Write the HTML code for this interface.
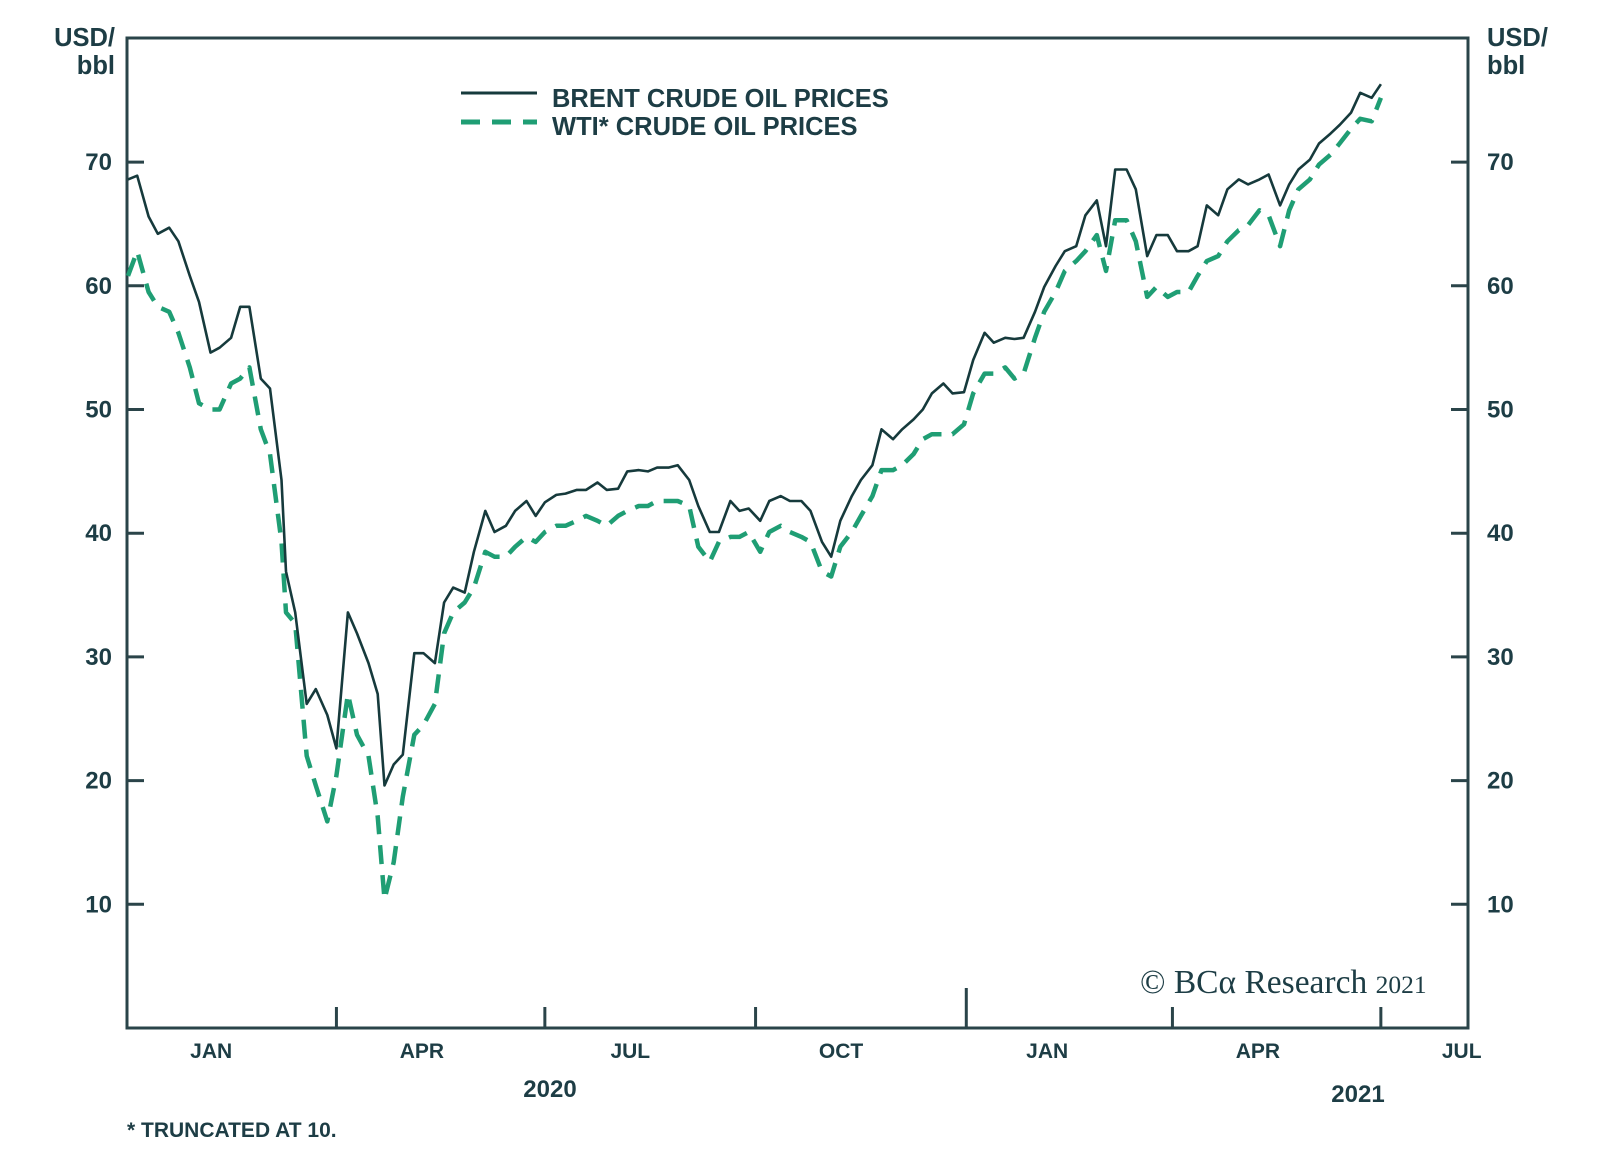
<!DOCTYPE html>
<html><head><meta charset="utf-8">
<style>
html,body{margin:0;padding:0;background:#fff;}
svg{display:block;}
text{font-family:"Liberation Sans",Arial,sans-serif;font-weight:bold;fill:#1d3d45;}
</style></head>
<body>
<svg id="chart" width="1600" height="1156" viewBox="0 0 1600 1156">
  <g id="axes"></g>
  <g id="series"></g>
  <g>
    <line x1="461" y1="93" x2="537" y2="93" stroke="#163a3c" stroke-width="3"/>
    <text x="552" y="107" font-size="25.5">BRENT CRUDE OIL PRICES</text>
    <line x1="461" y1="122" x2="537" y2="122" stroke="#1f9e74" stroke-width="5" stroke-dasharray="19 12"/>
    <text x="552" y="135" font-size="25.5">WTI* CRUDE OIL PRICES</text>
  </g>
  <text x="115" y="46" font-size="25.5" text-anchor="end">USD/</text>
  <text x="115" y="74" font-size="25.5" text-anchor="end">bbl</text>
  <text x="1487" y="46" font-size="25.5">USD/</text>
  <text x="1487" y="74" font-size="25.5">bbl</text>
  <text x="550" y="1097" font-size="24" text-anchor="middle">2020</text>
  <text x="1358" y="1102" font-size="24" text-anchor="middle">2021</text>
  <text x="127" y="1137" font-size="21">* TRUNCATED AT 10.</text>
  <text x="1140" y="993" font-size="33.5" style="font-family:'Liberation Serif',serif;font-weight:normal;">© BCα Research <tspan font-size="25.5">2021</tspan></text>
</svg>
<script>
const days = [0,4,9,13,18,22,27,31,36,40,45,49,53,58,62,67,69,73,78,82,87,91,96,100,105,109,112,
116,120,125,129,134,138,142,147,151,156,160,165,169,174,178,182,187,191,196,200,205,209,214,218,223,227,231,236,240,245,249,254,258,263,267,271,276,280,285,289,294,298,303,307,311,316,320,325,329,334,338,343,347,351,356,360,365,369,374,378,383,387,391,396,400,405,409,414,418,423,427,431,436,440,445,449,454,458,463,467,471,476,480,485,489,494,498,503,507,511,516,520,525,529,534,538,543,547];
const brent = [68.6,68.9,65.6,64.2,64.7,63.6,60.8,58.7,54.6,55.0,55.8,58.3,58.3,52.5,51.7,44.3,36.9,33.6,26.2,27.4,25.3,22.6,33.6,31.9,29.5,27.0,19.6,
21.3,22.1,30.3,30.3,29.5,34.4,35.6,35.2,38.5,41.8,40.1,40.6,41.8,42.6,41.4,42.5,43.1,43.2,43.5,43.5,44.1,43.5,43.6,45.0,45.1,45.0,45.3,45.3,45.5,44.3,42.2,40.1,40.1,42.6,41.8,42.0,41.0,42.6,43.0,42.6,42.6,41.8,39.3,38.1,41.0,43.0,44.3,45.5,48.4,47.6,48.4,49.2,50.0,51.3,52.1,51.3,51.4,54.0,56.2,55.4,55.8,55.7,55.8,57.9,59.9,61.6,62.8,63.2,65.7,66.9,63.2,69.4,69.4,67.8,62.4,64.1,64.1,62.8,62.8,63.2,66.5,65.7,67.8,68.6,68.2,68.6,69.0,66.5,68.2,69.4,70.2,71.5,72.3,73.0,74.0,75.6,75.2,76.3];
const wti = [60.8,62.8,59.5,58.3,57.9,56.2,53.4,50.5,50.0,50.0,52.1,52.5,53.4,48.4,46.4,39.3,33.6,32.7,22.0,19.6,16.7,20.4,27.0,23.7,22.0,17.1,10.4,
13.4,18.7,23.7,24.5,26.2,31.9,33.6,34.4,35.6,38.5,38.1,38.1,38.9,39.7,39.3,40.1,40.6,40.6,41.0,41.4,41.0,40.6,41.4,41.8,42.2,42.2,42.6,42.6,42.6,42.2,38.9,37.7,39.3,39.7,39.7,40.1,38.5,40.1,40.6,40.1,39.7,39.3,36.9,36.5,38.9,40.1,41.4,43.0,45.1,45.1,45.5,46.4,47.6,48.0,48.0,48.0,48.8,51.3,52.9,52.9,53.4,52.5,52.9,55.8,57.9,59.5,61.2,62.0,62.8,64.1,61.2,65.3,65.3,63.6,59.1,59.9,59.1,59.5,59.5,60.8,62.0,62.4,63.6,64.5,64.9,66.1,65.7,63.2,66.1,67.8,68.6,69.8,70.6,71.5,72.7,73.5,73.3,75.2];
const yTicks = [10,20,30,40,50,60,70];
const monthLabels = ["JAN","APR","JUL","OCT","JAN","APR","JUL"];
const monthLabelDays = [35,127,218,310,400,492,581];
const quarterTickDays = [91,182,274,366,456,547];

const NS = "http://www.w3.org/2000/svg";
const L = 127, R = 1468, T = 38, B = 1028;
const pxPerDay = 209 / 91.25;
const x = d => L + 1 + d * pxPerDay;
const y = v => B - v * 12.37;

function mk(tag, attrs, parent) {
  const e = document.createElementNS(NS, tag);
  for (const k in attrs) e.setAttribute(k, attrs[k]);
  parent.appendChild(e);
  return e;
}
const axes = document.getElementById('axes');
const series = document.getElementById('series');

const frame = mk('rect', {x: L, y: T, width: R - L, height: B - T, fill: 'none', stroke: '#2a4449', 'stroke-width': 3}, axes);



yTicks.forEach(v => {
  const tl = mk('line', {x1: L, x2: L + 17, y1: y(v), y2: y(v), stroke: '#2a4449', 'stroke-width': 3}, axes);
  
  
  const tr = mk('line', {x1: R - 17, x2: R, y1: y(v), y2: y(v), stroke: '#2a4449', 'stroke-width': 3}, axes);
  
  
  const a = mk('text', {x: 112, y: y(v) + 8, 'font-size': 24, 'text-anchor': 'end'}, axes);
  a.textContent = v;
  
  
  const b = mk('text', {x: 1487, y: y(v) + 8, 'font-size': 24}, axes);
  b.textContent = v;
  
  
});

quarterTickDays.forEach((d, i) => {
  const len = i === 3 ? 40 : 21;
  const t = mk('line', {x1: x(d), x2: x(d), y1: B, y2: B - len, stroke: '#2a4449', 'stroke-width': 3}, axes);
  
  
});
monthLabels.forEach((m, i) => {
  const t = mk('text', {x: x(monthLabelDays[i]) + 3, y: 1058, 'font-size': 21, 'text-anchor': 'middle'}, axes);
  t.textContent = m;
  
  
});

function pathOf(vals) {
  return vals.map((v, i) => (i ? 'L' : 'M') + x(days[i]).toFixed(1) + ' ' + y(v).toFixed(1)).join(' ');
}
const n = Math.min(days.length, brent.length, wti.length);
const wtiLine = mk('path', {d: pathOf(wti.slice(0, n)), fill: 'none', stroke: '#1f9e74', 'stroke-width': 4.5, 'stroke-dasharray': '19 11', 'stroke-linejoin': 'round'}, series);


const brentLine = mk('path', {d: pathOf(brent.slice(0, n)), fill: 'none', stroke: '#163a3c', 'stroke-width': 2.6, 'stroke-linejoin': 'round'}, series);


</script>
</body></html>
